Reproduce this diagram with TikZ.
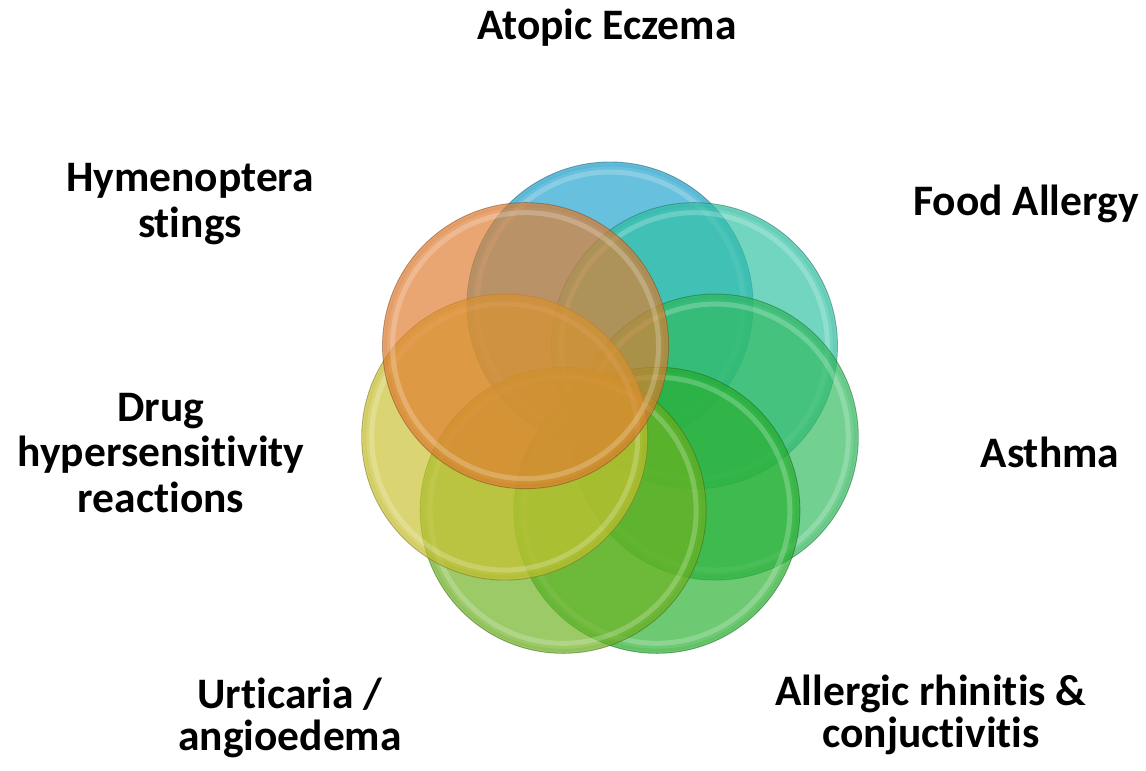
\documentclass[tikz,border=0pt]{standalone}
\usepackage{fontspec}
\setmainfont{Carlito}[Ligatures=NoCommon]
\definecolor{cBlue}{RGB}{32,163,205}
\definecolor{cTeal}{RGB}{48,194,163}
\definecolor{cAsthma}{RGB}{48,186,94}
\definecolor{cRhin}{RGB}{40,176,48}
\definecolor{cUrt}{RGB}{109,178,32}
\definecolor{cDrug}{RGB}{201,194,48}
\definecolor{cOrange}{RGB}{225,125,48}
\tikzset{
  lbl/.style={font=\fontsize{43.5}{45.5}\selectfont\bfseries, align=center, inner sep=0pt},
  lbltight/.style={lbl, font=\fontsize{43.5}{41.5}\selectfont\bfseries},
}
\newcommand{\disc}[2]{%
  \fill[#2, fill opacity=0.68] ({610+108*sin(#1)},{413-108*cos(#1)}) circle (143);
  \draw[#2!80!black, line width=3pt, opacity=0.12] ({610+108*sin(#1)},{413-108*cos(#1)}) circle (140);
  \draw[white, line width=5pt, opacity=0.22] ({610+108*sin(#1)},{413-108*cos(#1)}) circle (133);
  \draw[#2!60!black, line width=0.9pt, opacity=0.55] ({610+108*sin(#1)},{413-108*cos(#1)}) circle (143);
}
\begin{document}
\begin{tikzpicture}[x=1pt,y=-1pt]
\useasboundingbox (0,0) rectangle (1146,771);
\fill[white] (0,0) rectangle (1146,771);
\disc{0}{cBlue}
\disc{51.43}{cTeal}
\disc{102.86}{cAsthma}
\disc{154.29}{cRhin}
\disc{205.71}{cUrt}
\disc{257.14}{cDrug}
\disc{308.57}{cOrange}
\node[lbl, anchor=base] (atopic) at (607,39) {Atopic Eczema};
\node[lbl, anchor=base] (food) at (1026,215) {Food Allergy};
\node[lbl, anchor=base] (asthma) at (1050,467) {Asthma};
\node[lbltight, anchor=base] (rhin) at (931,747) {Allergic rhinitis \&\\conjuctivitis};
\node[lbltight, anchor=base] (urt) at (290,750) {Urticaria /\\angioedema};
\node[lbl, anchor=base] (drug) at (161,512) {Drug\\hypersensitivity\\reactions};
\node[lbl, anchor=base] (hym) at (190,237) {Hymenoptera\\stings};
\end{tikzpicture}
\end{document}
